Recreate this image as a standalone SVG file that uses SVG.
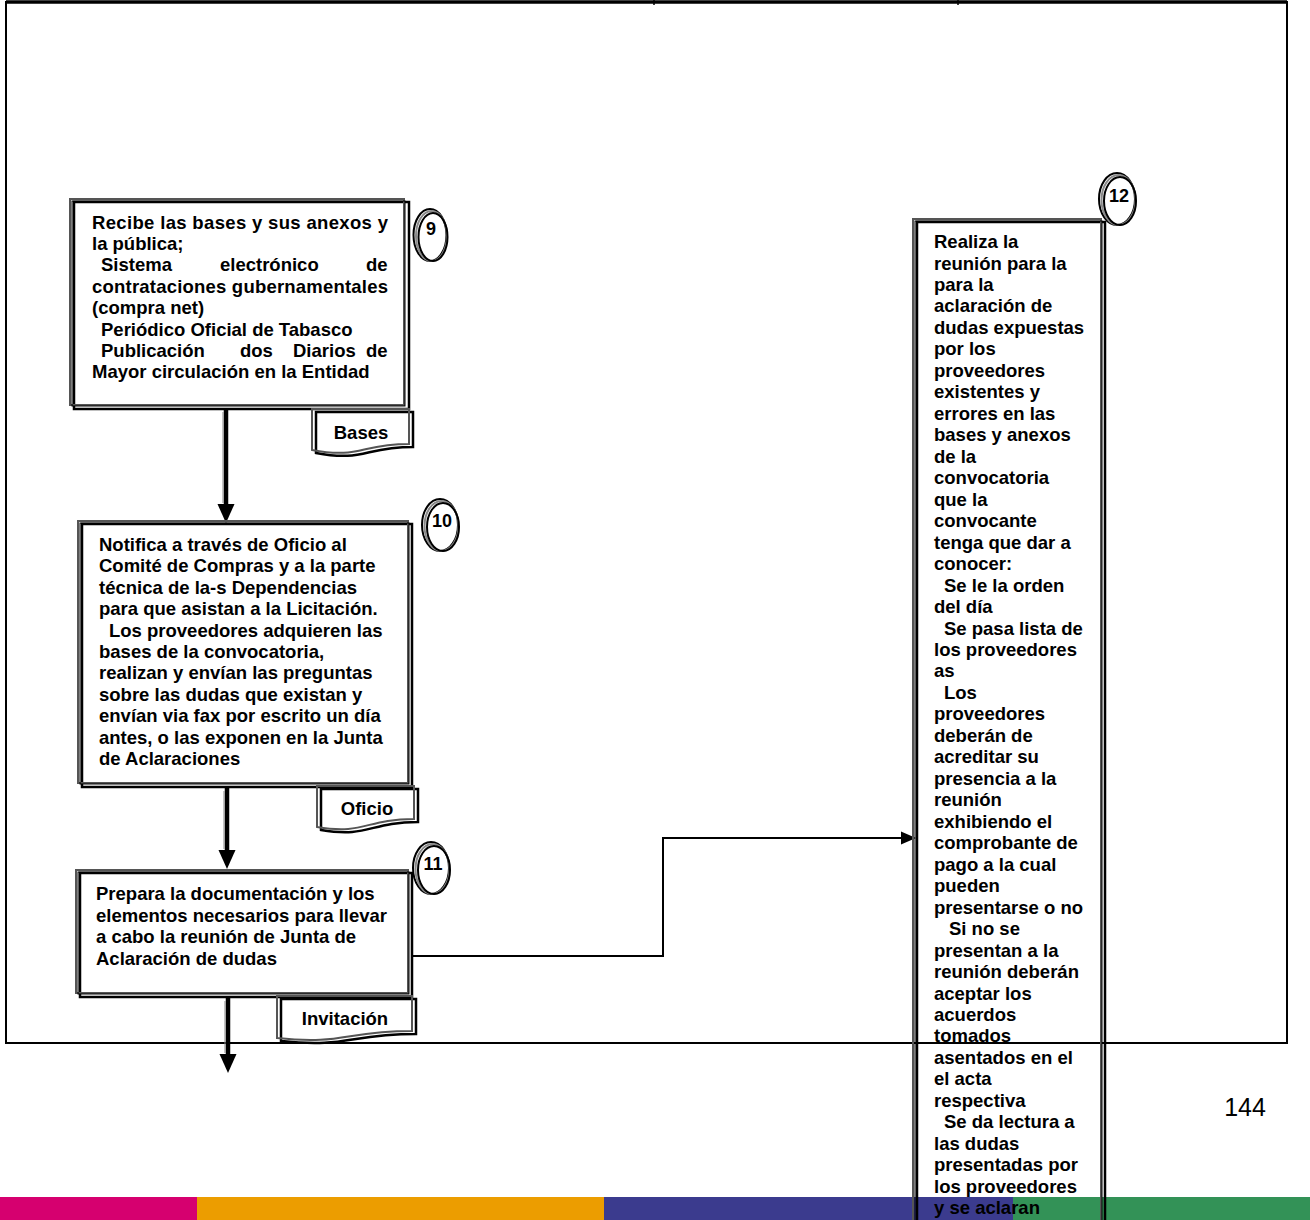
<svg xmlns="http://www.w3.org/2000/svg" width="1310" height="1220" viewBox="0 0 1310 1220">
<defs>
<style>
.t{font-family:"Liberation Sans",Arial,sans-serif;font-weight:bold;font-size:18.5px;fill:#000}
.n{font-family:"Liberation Sans",Arial,sans-serif;font-weight:bold;font-size:18px;fill:#000;text-anchor:middle}
.c{text-anchor:middle}
.pg{font-family:"Liberation Sans",Arial,sans-serif;font-size:25px;fill:#000;text-anchor:middle}
.fr{fill:none;stroke:#000;stroke-width:2}
.b1{fill:#fff;stroke:#000;stroke-width:2.5}
.b2{fill:none;stroke:#555;stroke-width:2}
.b0{fill:none;stroke:#000;stroke-width:2.5}
.o1{fill:#fff;stroke:#000;stroke-width:2}
.o2{fill:none;stroke:#888;stroke-width:2}
.o3{fill:none;stroke:#000;stroke-width:2}
.thick{fill:none;stroke:#000;stroke-width:4.5}
.thin{fill:none;stroke:#000;stroke-width:2}
</style>
<marker id="hb" markerUnits="userSpaceOnUse" markerWidth="20" markerHeight="18" refX="8" refY="8.5" orient="auto" viewBox="0 0 20 17">
<path d="M0,0 L19,8.5 L0,17 Z" fill="#000"/>
</marker>
<marker id="hs" markerUnits="userSpaceOnUse" markerWidth="16" markerHeight="14" refX="4" refY="6.5" orient="auto" viewBox="0 0 16 13">
<path d="M0,0 L15,6.5 L0,13 Z" fill="#000"/>
</marker>
</defs>

<g id="colorbar">
<rect x="0" y="1197" width="197" height="23" fill="#D6006F"/>
<rect x="197" y="1197" width="407" height="23" fill="#EC9D00"/>
<rect x="604" y="1197" width="409" height="23" fill="#3B3B8E"/>
<rect x="1013" y="1197" width="297" height="23" fill="#339257"/>
</g>

<g id="frame">
<path class="fr" d="M6,1043 V2 H1287 V1043 H5"/>
<line x1="6" y1="2" x2="1287" y2="2" stroke="#000" stroke-width="3.5"/>
<line x1="654" y1="0" x2="654" y2="5" stroke="#000" stroke-width="1.5"/>
<line x1="958" y1="0" x2="958" y2="5" stroke="#000" stroke-width="1.5"/>
</g>

<g id="connectors">
<line class="thick" x1="226" y1="409" x2="226" y2="512" marker-end="url(#hb)"/>
<line x1="223" y1="412" x2="223" y2="503" stroke="#888" stroke-width="1"/>
<line class="thick" x1="227" y1="788" x2="227" y2="858" marker-end="url(#hb)"/>
<line x1="224" y1="791" x2="224" y2="849" stroke="#888" stroke-width="1"/>
<line class="thick" x1="228" y1="998" x2="228" y2="1062" marker-end="url(#hb)"/>
<line x1="225" y1="1001" x2="225" y2="1053" stroke="#888" stroke-width="1"/>
<path class="thin" d="M412,956 H663 V838 H905" marker-end="url(#hs)"/>
</g>

<g id="node9">
<rect class="b1" x="74" y="202" width="335" height="207"/>
<rect class="b2" x="70" y="199" width="334" height="206"/>
<rect x="72" y="201" width="333" height="205" fill="none" stroke="#000" stroke-width="1"/>
<text class="t" x="92" y="229" textLength="296" lengthAdjust="spacing">Recibe las bases y sus anexos y</text>
<text class="t" x="92" y="250">la pública;</text>
<text class="t" y="271"><tspan x="101">Sistema</tspan><tspan x="220">electrónico</tspan><tspan x="366">de</tspan></text>
<text class="t" x="92" y="293" textLength="296" lengthAdjust="spacing">contrataciones gubernamentales</text>
<text class="t" x="92" y="314">(compra net)</text>
<text class="t" x="101" y="336">Periódico Oficial de Tabasco</text>
<text class="t" y="357"><tspan x="101">Publicación</tspan><tspan x="240">dos</tspan><tspan x="293">Diarios</tspan><tspan x="366">de</tspan></text>
<text class="t" x="92" y="378">Mayor circulación en la Entidad</text>
<g id="doc9">
<path class="b0" d="M316,412 H413 V447 C364,447 364,462 316,453 Z" fill="#fff"/>
<path class="b2" d="M312,409 H409 V444 C360,444 360,459 312,450 Z"/>
<text class="t c" x="361" y="439">Bases</text>
</g>
<g id="circle9">
<ellipse class="o1" cx="430" cy="235" rx="16.5" ry="26"/>
<ellipse class="o2" cx="431.5" cy="236" rx="15.5" ry="25"/>
<ellipse class="o3" cx="433" cy="237" rx="14.5" ry="24"/>
<text class="n" x="431" y="235">9</text>
</g>
</g>

<g id="node10">
<rect class="b1" x="82" y="524" width="330" height="263"/>
<rect class="b2" x="78" y="521" width="330" height="262"/>
<rect x="80" y="523" width="329" height="261" fill="none" stroke="#000" stroke-width="1"/>
<text class="t" x="99" y="551">Notifica a través de Oficio al</text>
<text class="t" x="99" y="572.4">Comité de Compras y a la parte</text>
<text class="t" x="99" y="593.8">técnica de la-s Dependencias</text>
<text class="t" x="99" y="615.2">para que asistan a la Licitación.</text>
<text class="t" x="109" y="636.6">Los proveedores adquieren las</text>
<text class="t" x="99" y="658">bases de la convocatoria,</text>
<text class="t" x="99" y="679.4">realizan y envían las preguntas</text>
<text class="t" x="99" y="700.8">sobre las dudas que existan y</text>
<text class="t" x="99" y="722.2">envían via fax por escrito un día</text>
<text class="t" x="99" y="743.6">antes, o las exponen en la Junta</text>
<text class="t" x="99" y="765">de Aclaraciones</text>
<g id="doc10">
<path class="b0" d="M321,789 H418 V822 C369,822 369,838 321,830 Z" fill="#fff"/>
<path class="b2" d="M317,786 H414 V819 C365,819 365,835 317,827 Z"/>
<text class="t c" x="367" y="815">Oficio</text>
</g>
<g id="circle10">
<ellipse class="o1" cx="440" cy="525" rx="18" ry="26"/>
<ellipse class="o2" cx="441.5" cy="526" rx="17" ry="25"/>
<ellipse class="o3" cx="443" cy="527" rx="16" ry="24"/>
<text class="n" x="442" y="527">10</text>
</g>
</g>

<g id="node11">
<rect class="b1" x="80" y="873" width="332" height="124"/>
<rect class="b2" x="76" y="870" width="332" height="123"/>
<rect x="78" y="872" width="331" height="122" fill="none" stroke="#000" stroke-width="1"/>
<text class="t" x="96" y="900">Prepara la documentación y los</text>
<text class="t" x="96" y="921.5">elementos necesarios para llevar</text>
<text class="t" x="96" y="943">a cabo la reunión de Junta de</text>
<text class="t" x="96" y="964.5">Aclaración de dudas</text>
<g id="doc11">
<path class="b0" d="M281,999 H416 V1034 C348,1034 348,1048 281,1041 Z" fill="#fff"/>
<path class="b2" d="M277,996 H412 V1031 C344,1031 344,1045 277,1038 Z"/>
<text class="t c" x="345" y="1025">Invitación</text>
</g>
<g id="circle11">
<ellipse class="o1" cx="431" cy="868" rx="18" ry="26"/>
<ellipse class="o2" cx="432.5" cy="869" rx="17" ry="25"/>
<ellipse class="o3" cx="434" cy="870" rx="16" ry="24"/>
<text class="n" x="433" y="870">11</text>
</g>
</g>

<g id="node12">
<rect class="b0" x="917" y="222" width="188" height="1010"/>
<rect class="b2" x="913" y="219" width="188" height="1010"/>
<rect x="915" y="221" width="187" height="1010" fill="none" stroke="#000" stroke-width="1"/>
<g class="t">
<text x="934" y="248">Realiza la</text>
<text x="934" y="269.5">reunión para la</text>
<text x="934" y="290.9">para la</text>
<text x="934" y="312.4">aclaración de</text>
<text x="934" y="333.9">dudas expuestas</text>
<text x="934" y="355.4">por los</text>
<text x="934" y="376.8">proveedores</text>
<text x="934" y="398.3">existentes y</text>
<text x="934" y="419.8">errores en las</text>
<text x="934" y="441.2">bases y anexos</text>
<text x="934" y="462.7">de la</text>
<text x="934" y="484.2">convocatoria</text>
<text x="934" y="505.6">que la</text>
<text x="934" y="527.1">convocante</text>
<text x="934" y="548.6">tenga que dar a</text>
<text x="934" y="570.1">conocer:</text>
<text x="944" y="591.5">Se le la orden</text>
<text x="934" y="613">del día</text>
<text x="944" y="634.5">Se pasa lista de</text>
<text x="934" y="655.9">los proveedores</text>
<text x="934" y="677.4">as</text>
<text x="944" y="698.9">Los</text>
<text x="934" y="720.3">proveedores</text>
<text x="934" y="741.8">deberán de</text>
<text x="934" y="763.3">acreditar su</text>
<text x="934" y="784.8">presencia a la</text>
<text x="934" y="806.2">reunión</text>
<text x="934" y="827.7">exhibiendo el</text>
<text x="934" y="849.2">comprobante de</text>
<text x="934" y="870.6">pago a la cual</text>
<text x="934" y="892.1">pueden</text>
<text x="934" y="913.6">presentarse o no</text>
<text x="949" y="935">Si no se</text>
<text x="934" y="956.5">presentan a la</text>
<text x="934" y="978">reunión deberán</text>
<text x="934" y="999.5">aceptar los</text>
<text x="934" y="1020.9">acuerdos</text>
<text x="934" y="1042.4">tomados</text>
<text x="934" y="1063.9">asentados en el</text>
<text x="934" y="1085.3">el acta</text>
<text x="934" y="1106.8">respectiva</text>
<text x="944" y="1128.3">Se da lectura a</text>
<text x="934" y="1149.8">las dudas</text>
<text x="934" y="1171.2">presentadas por</text>
<text x="934" y="1192.7">los proveedores</text>
<text x="934" y="1214.2">y se aclaran</text>
</g>
<g id="circle12">
<ellipse class="o1" cx="1117" cy="199" rx="18" ry="26"/>
<ellipse class="o2" cx="1118.5" cy="200" rx="17" ry="25"/>
<ellipse class="o3" cx="1120" cy="201" rx="16" ry="24"/>
<text class="n" x="1119" y="202">12</text>
</g>
</g>

<text class="pg" x="1245" y="1116">144</text>
</svg>
